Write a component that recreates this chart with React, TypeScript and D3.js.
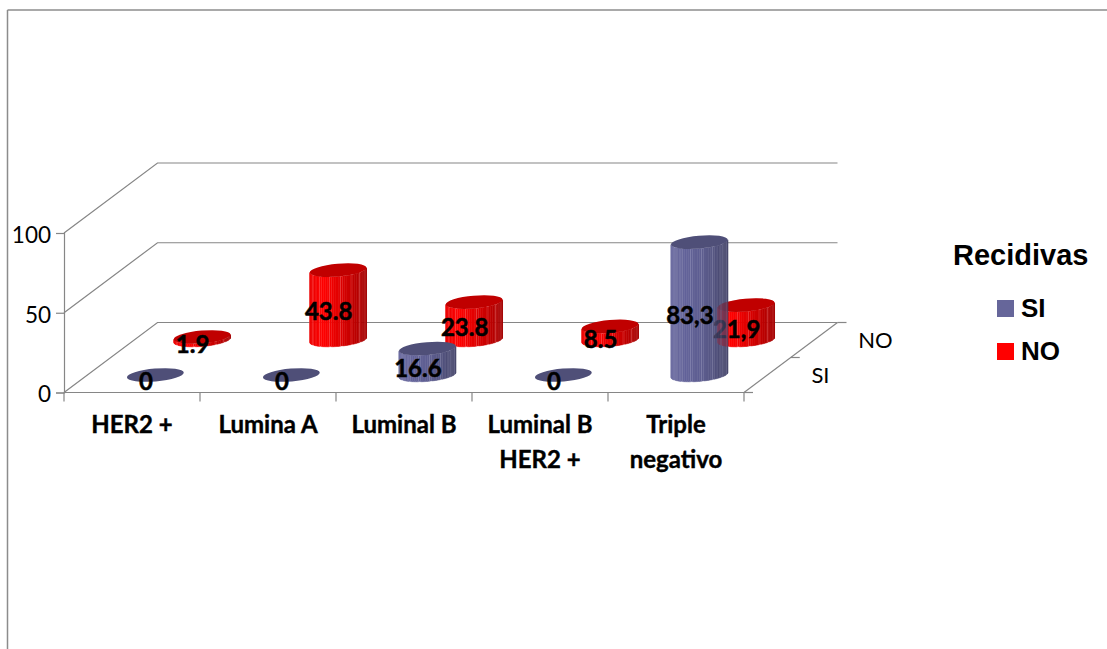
import React, { useEffect, useRef } from 'react';
import * as d3 from 'd3';

const categories = ['HER2 +', 'Lumina A', 'Luminal B', 'Luminal B\nHER2 +', 'Triple\nnegativo'];
const seriesNames = ['SI', 'NO'];
const siValues = [0, 0, 16.6, 0, 83.3];
const noValues = [1.9, 43.8, 23.8, 8.5, 21.9];
const siLabels = ['0', '0', '16.6', '0', '83,3'];
const noLabels = ['1.9', '43.8', '23.8', '8.5', '21,9'];
const valueTicks = [0, 50, 100];

const palette: Record<string, { top: string; side: string[]; light: string }> = {
  SI: { top: '#4f4f78', side: ['#6c6ca0', '#64649a', '#5e5e90', '#47476b'], light: '#9a9ac4' },
  NO: { top: '#c00000', side: ['#ea0000', '#ff0000', '#dd0000', '#a30000'], light: '#ff8a8a' },
};

const App: React.FC = () => {
  const svgRef = useRef<SVGSVGElement>(null);

  useEffect(() => {
    if (!svgRef.current) return;

    const width = 1107;
    const height = 649;
    const axisColor = '#868686';
    const labelFont = 'Lato, sans-serif';
    const legendFont = '"Liberation Sans", Arial, sans-serif';

    const svg = d3.select(svgRef.current)
      .attr('viewBox', `0 0 ${width} ${height}`)
      .html('');

    // Frame (only top and left are visible)
    svg.append('line').attr('x1', 7.5).attr('y1', 10).attr('x2', width).attr('y2', 10)
      .attr('stroke', '#8c8c8c').attr('stroke-width', 1.5);
    svg.append('line').attr('x1', 7.5).attr('y1', 10).attr('x2', 7.5).attr('y2', height)
      .attr('stroke', '#8c8c8c').attr('stroke-width', 1.5);

    const floorY = 392.5;
    const wallDx = 93.5;
    const wallDy = -70;

    const x = d3.scaleBand<string>().domain(categories).range([64, 744]);
    const y = d3.scaleLinear().domain([0, 100]).range([floorY, floorY - 159.5]);
    const depth = d3.scaleBand<string>().domain(seriesNames).range([0, 1]);

    const chart = svg.append('g');

    // Walls
    valueTicks.forEach(t => {
      chart.append('path')
        .attr('d', `M64,${y(t)}L${64 + wallDx},${y(t) + wallDy}H${744 + wallDx}`)
        .attr('fill', 'none')
        .attr('stroke', axisColor)
        .attr('stroke-width', 1.2);
    });

    // Value axis
    const yAxis = chart.append('g')
      .attr('transform', 'translate(64,0)')
      .call(d3.axisLeft(y).tickValues(valueTicks).tickSize(8).tickPadding(5).tickFormat(d3.format('d')));
    yAxis.selectAll('path,line').attr('stroke', axisColor).attr('stroke-width', 1.2);
    yAxis.selectAll('text')
      .attr('font-family', labelFont)
      .attr('font-size', 22.5)
      .attr('dy', '0.42em')
      .attr('fill', '#000');

    // Floor front edge and ticks
    chart.append('line').attr('x1', 64).attr('y1', floorY).attr('x2', 744).attr('y2', floorY)
      .attr('stroke', axisColor).attr('stroke-width', 1.2);
    d3.range(categories.length + 1).forEach(i => {
      const tx = 64 + i * x.step();
      chart.append('line').attr('x1', tx).attr('y1', floorY).attr('x2', tx).attr('y2', floorY + 9)
        .attr('stroke', axisColor).attr('stroke-width', 1.2);
    });

    // Depth axis
    chart.append('line')
      .attr('x1', 744).attr('y1', floorY)
      .attr('x2', 744 + wallDx).attr('y2', floorY + wallDy)
      .attr('stroke', axisColor).attr('stroke-width', 1.2);
    [0, 0.5, 1].forEach(d => {
      chart.append('line')
        .attr('x1', 744 + d * wallDx).attr('y1', floorY + d * wallDy)
        .attr('x2', 753 + d * wallDx).attr('y2', floorY + d * wallDy)
        .attr('stroke', axisColor).attr('stroke-width', 1.2);
    });
    seriesNames.forEach(name => {
      const d = (depth(name) as number) + depth.bandwidth() / 2;
      chart.append('text')
        .attr('x', 744 + d * wallDx + 44)
        .attr('y', floorY + d * wallDy + 7.5)
        .attr('font-family', labelFont)
        .attr('font-size', 22)
        .text(name);
    });

    // Category labels
    categories.forEach(c => {
      const cx = (x(c) as number) + x.bandwidth() / 2;
      c.split('\n').forEach((line, i) => {
        chart.append('text')
          .attr('x', cx)
          .attr('y', 433 + i * 34.5)
          .attr('text-anchor', 'middle')
          .attr('font-family', labelFont)
          .attr('font-weight', 700)
          .attr('font-size', 24)
          .attr('stroke', '#000')
          .attr('stroke-width', 0.4)
          .text(line);
      });
    });

    // Cylinder outline: tilted ellipse, strips run across its front half
    const rx = 28.5;
    const ry = 6.4;
    const tilt = (-5 * Math.PI) / 180;
    const pt = (t: number, cx: number, cy: number): [number, number] => [
      cx + rx * Math.cos(t) * Math.cos(tilt) - ry * Math.sin(t) * Math.sin(tilt),
      cy + rx * Math.cos(t) * Math.sin(tilt) + ry * Math.sin(t) * Math.cos(tilt),
    ];
    const t0 = Math.atan((-ry / rx) * Math.tan(tilt));
    const stripCount = 40;

    const drawCylinder = (parent: d3.Selection<SVGGElement, unknown, null, undefined>, name: string, c: string, value: number) => {
      const d = (depth(name) as number) + depth.bandwidth() / 2;
      const cx = (x(c) as number) + x.bandwidth() / 2 + d * wallDx;
      const baseY = y(0) + d * wallDy;
      const topY = y(value) + d * wallDy;
      const colors = palette[name];
      const shade = d3.scaleLinear<string>().domain([0, 0.25, 0.55, 1]).range(colors.side);
      const angle = d3.scaleLinear().domain([0, stripCount]).range([Math.PI + t0, t0]);

      if (value > 0) {
        d3.range(stripCount).forEach(i => {
          const [x1, y1] = pt(angle(i), cx, baseY);
          const [x2, y2] = pt(angle(i + 1), cx, baseY);
          const h = baseY - topY;
          const fill = shade(Math.max(0, ((x1 + x2) / 2 - cx + rx) / (2 * rx)));
          parent.append('path')
            .attr('d', `M${x1},${y1}L${x2},${y2}L${x2},${y2 - h}L${x1},${y1 - h}Z`)
            .attr('fill', fill)
            .attr('stroke', i % 5 === 1 ? colors.light : fill)
            .attr('stroke-opacity', i % 5 === 1 ? 0.5 : 1)
            .attr('stroke-width', 0.5);
        });
      }
      parent.append('ellipse')
        .attr('rx', rx)
        .attr('ry', ry)
        .attr('transform', `translate(${cx},${topY}) rotate(-5)`)
        .attr('fill', colors.top);
    };

    const drawLabel = (parent: d3.Selection<SVGGElement, unknown, null, undefined>, name: string, c: string, value: number, label: string) => {
      const d = (depth(name) as number) + depth.bandwidth() / 2;
      const cx = (x(c) as number) + x.bandwidth() / 2 + d * wallDx;
      const midY = (y(0) + y(value)) / 2 + d * wallDy;
      parent.append('text')
        .attr('x', cx - 9.5)
        .attr('y', midY + 15)
        .attr('text-anchor', 'middle')
        .attr('font-family', labelFont)
        .attr('font-weight', 700)
        .attr('font-size', 24)
        .attr('fill', '#000')
        .attr('stroke', '#000')
        .attr('stroke-width', 0.5)
        .text(label);
    };

    // Back row first with its labels, then the front row over it
    const noGroup = chart.append('g');
    categories.forEach((c, i) => drawCylinder(noGroup, 'NO', c, noValues[i]));
    categories.forEach((c, i) => drawLabel(noGroup, 'NO', c, noValues[i], noLabels[i]));
    const siGroup = chart.append('g');
    categories.forEach((c, i) => drawCylinder(siGroup, 'SI', c, siValues[i]));

    // The red and its label show faintly through where the two rows overlap
    const ghost = chart.append('g').attr('opacity', 0.22);
    drawCylinder(ghost, 'NO', categories[4], noValues[4]);
    drawLabel(ghost, 'NO', categories[4], noValues[4], noLabels[4]);

    categories.forEach((c, i) => drawLabel(chart, 'SI', c, siValues[i], siLabels[i]));

    // Legend
    const legend = svg.append('g');
    legend.append('text')
      .attr('x', 953)
      .attr('y', 265)
      .attr('font-family', legendFont)
      .attr('font-weight', 700)
      .attr('font-size', 29)
      .text('Recidivas');
    seriesNames.forEach((name, i) => {
      legend.append('rect')
        .attr('x', 997)
        .attr('y', 300 + i * 43)
        .attr('width', 17)
        .attr('height', 17)
        .attr('fill', i === 0 ? '#66669a' : '#ff0000');
      legend.append('text')
        .attr('x', 1021)
        .attr('y', 317 + i * 42.5)
        .attr('font-family', legendFont)
        .attr('font-weight', 700)
        .attr('font-size', 26)
        .text(name);
    });
  }, []);

  return (
    <svg
      ref={svgRef}
      width={1107}
      height={649}
      style={{ position: 'absolute', left: 0, top: 0, display: 'block', background: '#fff' }}
    ></svg>
  );
};

export default App;
